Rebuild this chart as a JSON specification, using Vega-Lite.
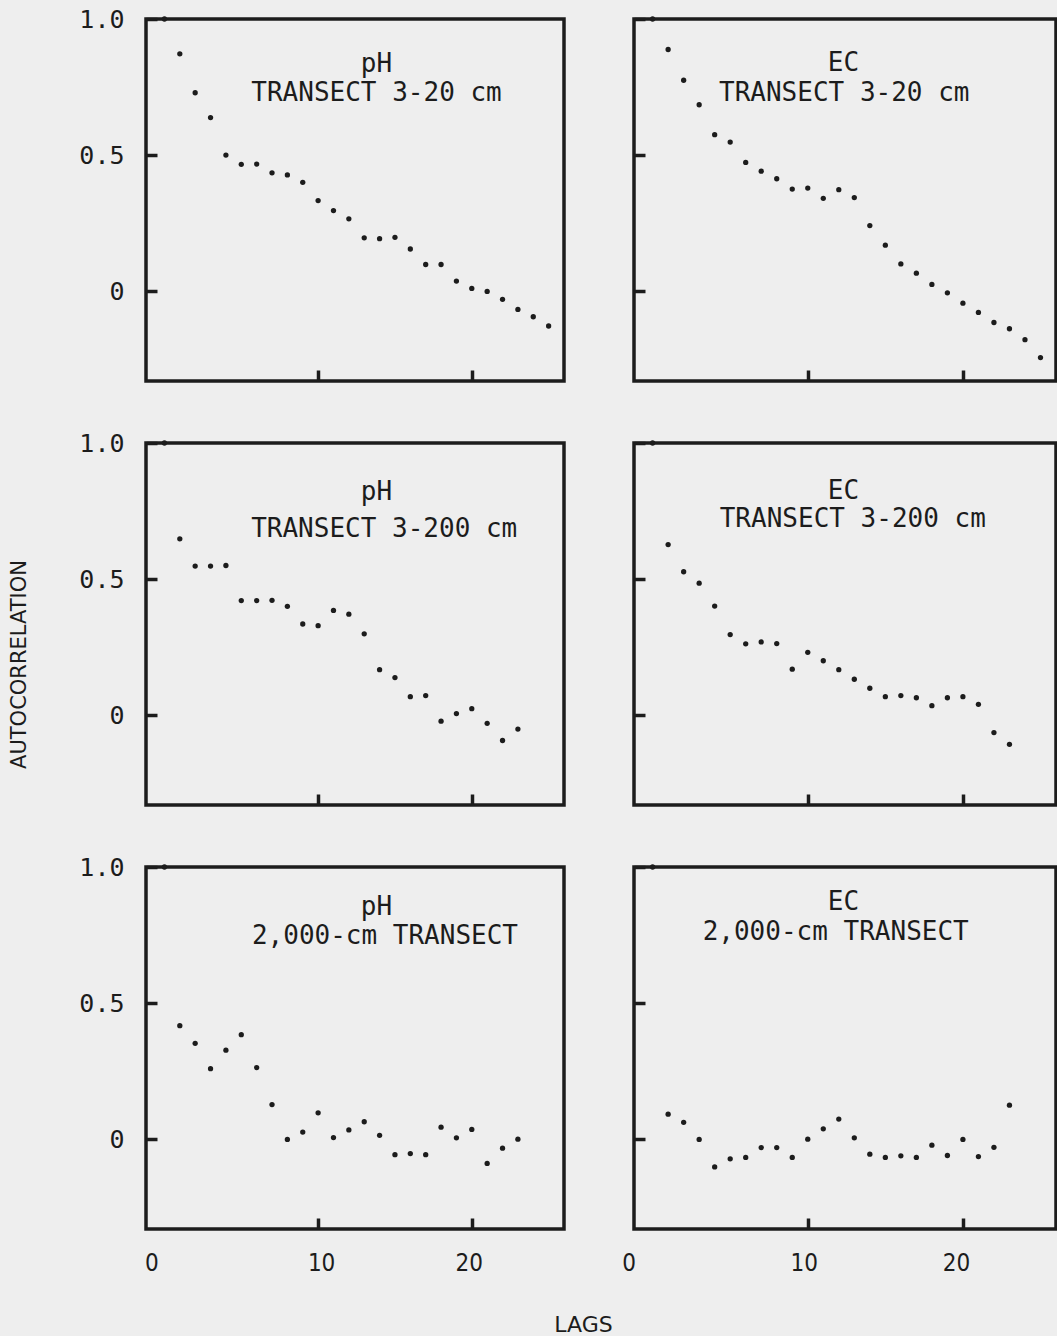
{
  "$schema": "https://vega.github.io/schema/vega-lite/v6.json",
  "background": "#eeeeee",
  "padding": {"left": 6, "top": 5, "right": 2, "bottom": 2},
  "config": {
    "view": {"stroke": "#1c1c1c", "strokeWidth": 3.5, "fill": null},
    "axis": {"domain": false, "grid": false, "tickColor": "#1c1c1c", "tickWidth": 3.5, "tickSize": -11, "labelColor": "#1c1c1c", "titleColor": "#1c1c1c", "titleFontWeight": "normal"}
  },
  "datasets": {
    "acf": [
      {"v": "pH", "t": "TRANSECT 3-20 cm", "lag": 0, "r": 1.0},
      {"v": "pH", "t": "TRANSECT 3-20 cm", "lag": 1, "r": 0.872},
      {"v": "pH", "t": "TRANSECT 3-20 cm", "lag": 2, "r": 0.729},
      {"v": "pH", "t": "TRANSECT 3-20 cm", "lag": 3, "r": 0.638},
      {"v": "pH", "t": "TRANSECT 3-20 cm", "lag": 4, "r": 0.5},
      {"v": "pH", "t": "TRANSECT 3-20 cm", "lag": 5, "r": 0.466},
      {"v": "pH", "t": "TRANSECT 3-20 cm", "lag": 6, "r": 0.467},
      {"v": "pH", "t": "TRANSECT 3-20 cm", "lag": 7, "r": 0.435},
      {"v": "pH", "t": "TRANSECT 3-20 cm", "lag": 8, "r": 0.427},
      {"v": "pH", "t": "TRANSECT 3-20 cm", "lag": 9, "r": 0.4},
      {"v": "pH", "t": "TRANSECT 3-20 cm", "lag": 10, "r": 0.333},
      {"v": "pH", "t": "TRANSECT 3-20 cm", "lag": 11, "r": 0.296},
      {"v": "pH", "t": "TRANSECT 3-20 cm", "lag": 12, "r": 0.266},
      {"v": "pH", "t": "TRANSECT 3-20 cm", "lag": 13, "r": 0.196},
      {"v": "pH", "t": "TRANSECT 3-20 cm", "lag": 14, "r": 0.193},
      {"v": "pH", "t": "TRANSECT 3-20 cm", "lag": 15, "r": 0.198},
      {"v": "pH", "t": "TRANSECT 3-20 cm", "lag": 16, "r": 0.155},
      {"v": "pH", "t": "TRANSECT 3-20 cm", "lag": 17, "r": 0.098},
      {"v": "pH", "t": "TRANSECT 3-20 cm", "lag": 18, "r": 0.098},
      {"v": "pH", "t": "TRANSECT 3-20 cm", "lag": 19, "r": 0.037},
      {"v": "pH", "t": "TRANSECT 3-20 cm", "lag": 20, "r": 0.01},
      {"v": "pH", "t": "TRANSECT 3-20 cm", "lag": 21, "r": -0.001},
      {"v": "pH", "t": "TRANSECT 3-20 cm", "lag": 22, "r": -0.03},
      {"v": "pH", "t": "TRANSECT 3-20 cm", "lag": 23, "r": -0.067},
      {"v": "pH", "t": "TRANSECT 3-20 cm", "lag": 24, "r": -0.094},
      {"v": "pH", "t": "TRANSECT 3-20 cm", "lag": 25, "r": -0.128},

      {"v": "EC", "t": "TRANSECT 3-20 cm", "lag": 0, "r": 1.0},
      {"v": "EC", "t": "TRANSECT 3-20 cm", "lag": 1, "r": 0.888},
      {"v": "EC", "t": "TRANSECT 3-20 cm", "lag": 2, "r": 0.775},
      {"v": "EC", "t": "TRANSECT 3-20 cm", "lag": 3, "r": 0.685},
      {"v": "EC", "t": "TRANSECT 3-20 cm", "lag": 4, "r": 0.575},
      {"v": "EC", "t": "TRANSECT 3-20 cm", "lag": 5, "r": 0.548},
      {"v": "EC", "t": "TRANSECT 3-20 cm", "lag": 6, "r": 0.473},
      {"v": "EC", "t": "TRANSECT 3-20 cm", "lag": 7, "r": 0.441},
      {"v": "EC", "t": "TRANSECT 3-20 cm", "lag": 8, "r": 0.413},
      {"v": "EC", "t": "TRANSECT 3-20 cm", "lag": 9, "r": 0.375},
      {"v": "EC", "t": "TRANSECT 3-20 cm", "lag": 10, "r": 0.379},
      {"v": "EC", "t": "TRANSECT 3-20 cm", "lag": 11, "r": 0.341},
      {"v": "EC", "t": "TRANSECT 3-20 cm", "lag": 12, "r": 0.373},
      {"v": "EC", "t": "TRANSECT 3-20 cm", "lag": 13, "r": 0.344},
      {"v": "EC", "t": "TRANSECT 3-20 cm", "lag": 14, "r": 0.241},
      {"v": "EC", "t": "TRANSECT 3-20 cm", "lag": 15, "r": 0.169},
      {"v": "EC", "t": "TRANSECT 3-20 cm", "lag": 16, "r": 0.1},
      {"v": "EC", "t": "TRANSECT 3-20 cm", "lag": 17, "r": 0.066},
      {"v": "EC", "t": "TRANSECT 3-20 cm", "lag": 18, "r": 0.025},
      {"v": "EC", "t": "TRANSECT 3-20 cm", "lag": 19, "r": -0.006},
      {"v": "EC", "t": "TRANSECT 3-20 cm", "lag": 20, "r": -0.044},
      {"v": "EC", "t": "TRANSECT 3-20 cm", "lag": 21, "r": -0.078},
      {"v": "EC", "t": "TRANSECT 3-20 cm", "lag": 22, "r": -0.115},
      {"v": "EC", "t": "TRANSECT 3-20 cm", "lag": 23, "r": -0.138},
      {"v": "EC", "t": "TRANSECT 3-20 cm", "lag": 24, "r": -0.178},
      {"v": "EC", "t": "TRANSECT 3-20 cm", "lag": 25, "r": -0.244},

      {"v": "pH", "t": "TRANSECT 3-200 cm", "lag": 0, "r": 1.0},
      {"v": "pH", "t": "TRANSECT 3-200 cm", "lag": 1, "r": 0.648},
      {"v": "pH", "t": "TRANSECT 3-200 cm", "lag": 2, "r": 0.548},
      {"v": "pH", "t": "TRANSECT 3-200 cm", "lag": 3, "r": 0.548},
      {"v": "pH", "t": "TRANSECT 3-200 cm", "lag": 4, "r": 0.55},
      {"v": "pH", "t": "TRANSECT 3-200 cm", "lag": 5, "r": 0.421},
      {"v": "pH", "t": "TRANSECT 3-200 cm", "lag": 6, "r": 0.421},
      {"v": "pH", "t": "TRANSECT 3-200 cm", "lag": 7, "r": 0.422},
      {"v": "pH", "t": "TRANSECT 3-200 cm", "lag": 8, "r": 0.4},
      {"v": "pH", "t": "TRANSECT 3-200 cm", "lag": 9, "r": 0.335},
      {"v": "pH", "t": "TRANSECT 3-200 cm", "lag": 10, "r": 0.329},
      {"v": "pH", "t": "TRANSECT 3-200 cm", "lag": 11, "r": 0.385},
      {"v": "pH", "t": "TRANSECT 3-200 cm", "lag": 12, "r": 0.371},
      {"v": "pH", "t": "TRANSECT 3-200 cm", "lag": 13, "r": 0.299},
      {"v": "pH", "t": "TRANSECT 3-200 cm", "lag": 14, "r": 0.167},
      {"v": "pH", "t": "TRANSECT 3-200 cm", "lag": 15, "r": 0.138},
      {"v": "pH", "t": "TRANSECT 3-200 cm", "lag": 16, "r": 0.068},
      {"v": "pH", "t": "TRANSECT 3-200 cm", "lag": 17, "r": 0.072},
      {"v": "pH", "t": "TRANSECT 3-200 cm", "lag": 18, "r": -0.022},
      {"v": "pH", "t": "TRANSECT 3-200 cm", "lag": 19, "r": 0.006},
      {"v": "pH", "t": "TRANSECT 3-200 cm", "lag": 20, "r": 0.024},
      {"v": "pH", "t": "TRANSECT 3-200 cm", "lag": 21, "r": -0.03},
      {"v": "pH", "t": "TRANSECT 3-200 cm", "lag": 22, "r": -0.093},
      {"v": "pH", "t": "TRANSECT 3-200 cm", "lag": 23, "r": -0.051},

      {"v": "EC", "t": "TRANSECT 3-200 cm", "lag": 0, "r": 1.0},
      {"v": "EC", "t": "TRANSECT 3-200 cm", "lag": 1, "r": 0.627},
      {"v": "EC", "t": "TRANSECT 3-200 cm", "lag": 2, "r": 0.527},
      {"v": "EC", "t": "TRANSECT 3-200 cm", "lag": 3, "r": 0.485},
      {"v": "EC", "t": "TRANSECT 3-200 cm", "lag": 4, "r": 0.401},
      {"v": "EC", "t": "TRANSECT 3-200 cm", "lag": 5, "r": 0.296},
      {"v": "EC", "t": "TRANSECT 3-200 cm", "lag": 6, "r": 0.262},
      {"v": "EC", "t": "TRANSECT 3-200 cm", "lag": 7, "r": 0.269},
      {"v": "EC", "t": "TRANSECT 3-200 cm", "lag": 8, "r": 0.263},
      {"v": "EC", "t": "TRANSECT 3-200 cm", "lag": 9, "r": 0.169},
      {"v": "EC", "t": "TRANSECT 3-200 cm", "lag": 10, "r": 0.231},
      {"v": "EC", "t": "TRANSECT 3-200 cm", "lag": 11, "r": 0.2},
      {"v": "EC", "t": "TRANSECT 3-200 cm", "lag": 12, "r": 0.167},
      {"v": "EC", "t": "TRANSECT 3-200 cm", "lag": 13, "r": 0.132},
      {"v": "EC", "t": "TRANSECT 3-200 cm", "lag": 14, "r": 0.099},
      {"v": "EC", "t": "TRANSECT 3-200 cm", "lag": 15, "r": 0.068},
      {"v": "EC", "t": "TRANSECT 3-200 cm", "lag": 16, "r": 0.072},
      {"v": "EC", "t": "TRANSECT 3-200 cm", "lag": 17, "r": 0.064},
      {"v": "EC", "t": "TRANSECT 3-200 cm", "lag": 18, "r": 0.035},
      {"v": "EC", "t": "TRANSECT 3-200 cm", "lag": 19, "r": 0.064},
      {"v": "EC", "t": "TRANSECT 3-200 cm", "lag": 20, "r": 0.068},
      {"v": "EC", "t": "TRANSECT 3-200 cm", "lag": 21, "r": 0.04},
      {"v": "EC", "t": "TRANSECT 3-200 cm", "lag": 22, "r": -0.064},
      {"v": "EC", "t": "TRANSECT 3-200 cm", "lag": 23, "r": -0.107},

      {"v": "pH", "t": "2,000-cm TRANSECT", "lag": 0, "r": 1.0},
      {"v": "pH", "t": "2,000-cm TRANSECT", "lag": 1, "r": 0.417},
      {"v": "pH", "t": "2,000-cm TRANSECT", "lag": 2, "r": 0.352},
      {"v": "pH", "t": "2,000-cm TRANSECT", "lag": 3, "r": 0.259},
      {"v": "pH", "t": "2,000-cm TRANSECT", "lag": 4, "r": 0.327},
      {"v": "pH", "t": "2,000-cm TRANSECT", "lag": 5, "r": 0.384},
      {"v": "pH", "t": "2,000-cm TRANSECT", "lag": 6, "r": 0.263},
      {"v": "pH", "t": "2,000-cm TRANSECT", "lag": 7, "r": 0.127},
      {"v": "pH", "t": "2,000-cm TRANSECT", "lag": 8, "r": -0.001},
      {"v": "pH", "t": "2,000-cm TRANSECT", "lag": 9, "r": 0.026},
      {"v": "pH", "t": "2,000-cm TRANSECT", "lag": 10, "r": 0.097},
      {"v": "pH", "t": "2,000-cm TRANSECT", "lag": 11, "r": 0.006},
      {"v": "pH", "t": "2,000-cm TRANSECT", "lag": 12, "r": 0.034},
      {"v": "pH", "t": "2,000-cm TRANSECT", "lag": 13, "r": 0.064},
      {"v": "pH", "t": "2,000-cm TRANSECT", "lag": 14, "r": 0.014},
      {"v": "pH", "t": "2,000-cm TRANSECT", "lag": 15, "r": -0.057},
      {"v": "pH", "t": "2,000-cm TRANSECT", "lag": 16, "r": -0.053},
      {"v": "pH", "t": "2,000-cm TRANSECT", "lag": 17, "r": -0.057},
      {"v": "pH", "t": "2,000-cm TRANSECT", "lag": 18, "r": 0.044},
      {"v": "pH", "t": "2,000-cm TRANSECT", "lag": 19, "r": 0.005},
      {"v": "pH", "t": "2,000-cm TRANSECT", "lag": 20, "r": 0.036},
      {"v": "pH", "t": "2,000-cm TRANSECT", "lag": 21, "r": -0.089},
      {"v": "pH", "t": "2,000-cm TRANSECT", "lag": 22, "r": -0.033},
      {"v": "pH", "t": "2,000-cm TRANSECT", "lag": 23, "r": 0.0},

      {"v": "EC", "t": "2,000-cm TRANSECT", "lag": 0, "r": 1.0},
      {"v": "EC", "t": "2,000-cm TRANSECT", "lag": 1, "r": 0.092},
      {"v": "EC", "t": "2,000-cm TRANSECT", "lag": 2, "r": 0.062},
      {"v": "EC", "t": "2,000-cm TRANSECT", "lag": 3, "r": -0.001},
      {"v": "EC", "t": "2,000-cm TRANSECT", "lag": 4, "r": -0.102},
      {"v": "EC", "t": "2,000-cm TRANSECT", "lag": 5, "r": -0.072},
      {"v": "EC", "t": "2,000-cm TRANSECT", "lag": 6, "r": -0.067},
      {"v": "EC", "t": "2,000-cm TRANSECT", "lag": 7, "r": -0.031},
      {"v": "EC", "t": "2,000-cm TRANSECT", "lag": 8, "r": -0.031},
      {"v": "EC", "t": "2,000-cm TRANSECT", "lag": 9, "r": -0.067},
      {"v": "EC", "t": "2,000-cm TRANSECT", "lag": 10, "r": 0.0},
      {"v": "EC", "t": "2,000-cm TRANSECT", "lag": 11, "r": 0.038},
      {"v": "EC", "t": "2,000-cm TRANSECT", "lag": 12, "r": 0.074},
      {"v": "EC", "t": "2,000-cm TRANSECT", "lag": 13, "r": 0.005},
      {"v": "EC", "t": "2,000-cm TRANSECT", "lag": 14, "r": -0.055},
      {"v": "EC", "t": "2,000-cm TRANSECT", "lag": 15, "r": -0.067},
      {"v": "EC", "t": "2,000-cm TRANSECT", "lag": 16, "r": -0.061},
      {"v": "EC", "t": "2,000-cm TRANSECT", "lag": 17, "r": -0.067},
      {"v": "EC", "t": "2,000-cm TRANSECT", "lag": 18, "r": -0.022},
      {"v": "EC", "t": "2,000-cm TRANSECT", "lag": 19, "r": -0.06},
      {"v": "EC", "t": "2,000-cm TRANSECT", "lag": 20, "r": -0.001},
      {"v": "EC", "t": "2,000-cm TRANSECT", "lag": 21, "r": -0.064},
      {"v": "EC", "t": "2,000-cm TRANSECT", "lag": 22, "r": -0.03},
      {"v": "EC", "t": "2,000-cm TRANSECT", "lag": 23, "r": 0.125}
    ]
  },
  "data": {"name": "acf"},
  "bounds": "flush",
  "columns": 2,
  "spacing": {"row": 62, "column": 70},
  "concat": [
    {
      "width": 418, "height": 362,
      "transform": [{"filter": "datum.v === 'pH' && datum.t === 'TRANSECT 3-20 cm'"}],
      "layer": [
        {"mark": {"type": "circle", "size": 28, "color": "#1c1c1c", "opacity": 1},
         "encoding": {
           "x": {"field": "lag", "type": "quantitative", "scale": {"domain": [-1.2, 26], "nice": false, "zero": false}, "axis": {"values": [10, 20], "labels": false, "title": null}},
           "y": {"field": "r", "type": "quantitative", "scale": {"domain": [-0.33, 1.0], "nice": false, "zero": false}, "axis": {"values": [0, 0.5, 1], "labelExpr": "datum.value === 1 ? '1.0' : datum.value === 0.5 ? '0.5' : '0'", "labelFont": "DejaVu Sans Mono", "labelFontSize": 25, "labelPadding": 33, "title": null}}
         }},
        {"transform": [{"filter": "datum.lag === 0"}],
         "mark": {"type": "text", "font": "DejaVu Sans Mono", "fontSize": 26, "color": "#1c1c1c", "align": "center", "baseline": "middle"},
         "encoding": {"x": {"datum": 13.8}, "y": {"datum": 0.835}, "text": {"field": "v"}}},
        {"transform": [{"filter": "datum.lag === 0"}],
         "mark": {"type": "text", "font": "DejaVu Sans Mono", "fontSize": 26, "color": "#1c1c1c", "align": "center", "baseline": "middle"},
         "encoding": {"x": {"datum": 13.8}, "y": {"datum": 0.728}, "text": {"field": "t"}}}
      ]
    },
    {
      "width": 422, "height": 362,
      "transform": [{"filter": "datum.v === 'EC' && datum.t === 'TRANSECT 3-20 cm'"}],
      "layer": [
        {"mark": {"type": "circle", "size": 28, "color": "#1c1c1c", "opacity": 1},
         "encoding": {
           "x": {"field": "lag", "type": "quantitative", "scale": {"domain": [-1.2, 26], "nice": false, "zero": false}, "axis": {"values": [10, 20], "labels": false, "title": null}},
           "y": {"field": "r", "type": "quantitative", "scale": {"domain": [-0.33, 1.0], "nice": false, "zero": false}, "axis": {"values": [0, 0.5, 1], "labels": false, "title": null}}
         }},
        {"transform": [{"filter": "datum.lag === 0"}],
         "mark": {"type": "text", "font": "DejaVu Sans Mono", "fontSize": 26, "color": "#1c1c1c", "align": "center", "baseline": "middle"},
         "encoding": {"x": {"datum": 12.3}, "y": {"datum": 0.838}, "text": {"field": "v"}}},
        {"transform": [{"filter": "datum.lag === 0"}],
         "mark": {"type": "text", "font": "DejaVu Sans Mono", "fontSize": 26, "color": "#1c1c1c", "align": "center", "baseline": "middle"},
         "encoding": {"x": {"datum": 12.35}, "y": {"datum": 0.728}, "text": {"field": "t"}}}
      ]
    },
    {
      "width": 418, "height": 362,
      "transform": [{"filter": "datum.v === 'pH' && datum.t === 'TRANSECT 3-200 cm'"}],
      "layer": [
        {"mark": {"type": "circle", "size": 28, "color": "#1c1c1c", "opacity": 1},
         "encoding": {
           "x": {"field": "lag", "type": "quantitative", "scale": {"domain": [-1.2, 26], "nice": false, "zero": false}, "axis": {"values": [10, 20], "labels": false, "title": null}},
           "y": {"field": "r", "type": "quantitative", "scale": {"domain": [-0.33, 1.0], "nice": false, "zero": false}, "axis": {"values": [0, 0.5, 1], "labelExpr": "datum.value === 1 ? '1.0' : datum.value === 0.5 ? '0.5' : '0'", "labelFont": "DejaVu Sans Mono", "labelFontSize": 25, "labelPadding": 33, "title": "AUTOCORRELATION", "titleX": -127, "titleY": 221, "titleAngle": -90, "titleAlign": "center", "titleBaseline": "middle", "titleFont": "DejaVu Sans", "titleFontSize": 21}}
         }},
        {"transform": [{"filter": "datum.lag === 0"}],
         "mark": {"type": "text", "font": "DejaVu Sans Mono", "fontSize": 26, "color": "#1c1c1c", "align": "center", "baseline": "middle"},
         "encoding": {"x": {"datum": 13.8}, "y": {"datum": 0.82}, "text": {"field": "v"}}},
        {"transform": [{"filter": "datum.lag === 0"}],
         "mark": {"type": "text", "font": "DejaVu Sans Mono", "fontSize": 26, "color": "#1c1c1c", "align": "center", "baseline": "middle"},
         "encoding": {"x": {"datum": 14.3}, "y": {"datum": 0.684}, "text": {"field": "t"}}}
      ]
    },
    {
      "width": 422, "height": 362,
      "transform": [{"filter": "datum.v === 'EC' && datum.t === 'TRANSECT 3-200 cm'"}],
      "layer": [
        {"mark": {"type": "circle", "size": 28, "color": "#1c1c1c", "opacity": 1},
         "encoding": {
           "x": {"field": "lag", "type": "quantitative", "scale": {"domain": [-1.2, 26], "nice": false, "zero": false}, "axis": {"values": [10, 20], "labels": false, "title": null}},
           "y": {"field": "r", "type": "quantitative", "scale": {"domain": [-0.33, 1.0], "nice": false, "zero": false}, "axis": {"values": [0, 0.5, 1], "labels": false, "title": null}}
         }},
        {"transform": [{"filter": "datum.lag === 0"}],
         "mark": {"type": "text", "font": "DejaVu Sans Mono", "fontSize": 26, "color": "#1c1c1c", "align": "center", "baseline": "middle"},
         "encoding": {"x": {"datum": 12.3}, "y": {"datum": 0.824}, "text": {"field": "v"}}},
        {"transform": [{"filter": "datum.lag === 0"}],
         "mark": {"type": "text", "font": "DejaVu Sans Mono", "fontSize": 26, "color": "#1c1c1c", "align": "center", "baseline": "middle"},
         "encoding": {"x": {"datum": 12.9}, "y": {"datum": 0.72}, "text": {"field": "t"}}}
      ]
    },
    {
      "width": 418, "height": 362,
      "transform": [{"filter": "datum.v === 'pH' && datum.t === '2,000-cm TRANSECT'"}],
      "layer": [
        {"mark": {"type": "circle", "size": 28, "color": "#1c1c1c", "opacity": 1},
         "encoding": {
           "x": {"field": "lag", "type": "quantitative", "scale": {"domain": [-1.2, 26], "nice": false, "zero": false}, "axis": {"values": [0, 10, 20], "tickColor": {"condition": {"test": "datum.value === 0", "value": "transparent"}, "value": "#1c1c1c"}, "labelFont": "DejaVu Sans Condensed, DejaVu Sans", "labelFontSize": 24, "labelPadding": 33, "labelOffset": {"expr": "datum.value === 0 ? -13 : datum.value === 10 ? 3 : -3"}, "title": "LAGS", "titleX": 437, "titleY": 95, "titleAlign": "center", "titleBaseline": "middle", "titleFont": "DejaVu Sans", "titleFontSize": 22}},
           "y": {"field": "r", "type": "quantitative", "scale": {"domain": [-0.33, 1.0], "nice": false, "zero": false}, "axis": {"values": [0, 0.5, 1], "labelExpr": "datum.value === 1 ? '1.0' : datum.value === 0.5 ? '0.5' : '0'", "labelFont": "DejaVu Sans Mono", "labelFontSize": 25, "labelPadding": 33, "title": null}}
         }},
        {"transform": [{"filter": "datum.lag === 0"}],
         "mark": {"type": "text", "font": "DejaVu Sans Mono", "fontSize": 26, "color": "#1c1c1c", "align": "center", "baseline": "middle"},
         "encoding": {"x": {"datum": 13.8}, "y": {"datum": 0.852}, "text": {"field": "v"}}},
        {"transform": [{"filter": "datum.lag === 0"}],
         "mark": {"type": "text", "font": "DejaVu Sans Mono", "fontSize": 26, "color": "#1c1c1c", "align": "center", "baseline": "middle"},
         "encoding": {"x": {"datum": 14.35}, "y": {"datum": 0.745}, "text": {"field": "t"}}}
      ]
    },
    {
      "width": 422, "height": 362,
      "transform": [{"filter": "datum.v === 'EC' && datum.t === '2,000-cm TRANSECT'"}],
      "layer": [
        {"mark": {"type": "circle", "size": 28, "color": "#1c1c1c", "opacity": 1},
         "encoding": {
           "x": {"field": "lag", "type": "quantitative", "scale": {"domain": [-1.2, 26], "nice": false, "zero": false}, "axis": {"values": [0, 10, 20], "tickColor": {"condition": {"test": "datum.value === 0", "value": "transparent"}, "value": "#1c1c1c"}, "labelFont": "DejaVu Sans Condensed, DejaVu Sans", "labelFontSize": 24, "labelPadding": 33, "labelOffset": {"expr": "datum.value === 0 ? -24 : datum.value === 10 ? -4 : -7"}, "title": null}},
           "y": {"field": "r", "type": "quantitative", "scale": {"domain": [-0.33, 1.0], "nice": false, "zero": false}, "axis": {"values": [0, 0.5, 1], "labels": false, "title": null}}
         }},
        {"transform": [{"filter": "datum.lag === 0"}],
         "mark": {"type": "text", "font": "DejaVu Sans Mono", "fontSize": 26, "color": "#1c1c1c", "align": "center", "baseline": "middle"},
         "encoding": {"x": {"datum": 12.3}, "y": {"datum": 0.871}, "text": {"field": "v"}}},
        {"transform": [{"filter": "datum.lag === 0"}],
         "mark": {"type": "text", "font": "DejaVu Sans Mono", "fontSize": 26, "color": "#1c1c1c", "align": "center", "baseline": "middle"},
         "encoding": {"x": {"datum": 11.8}, "y": {"datum": 0.763}, "text": {"field": "t"}}}
      ]
    }
  ]
}
